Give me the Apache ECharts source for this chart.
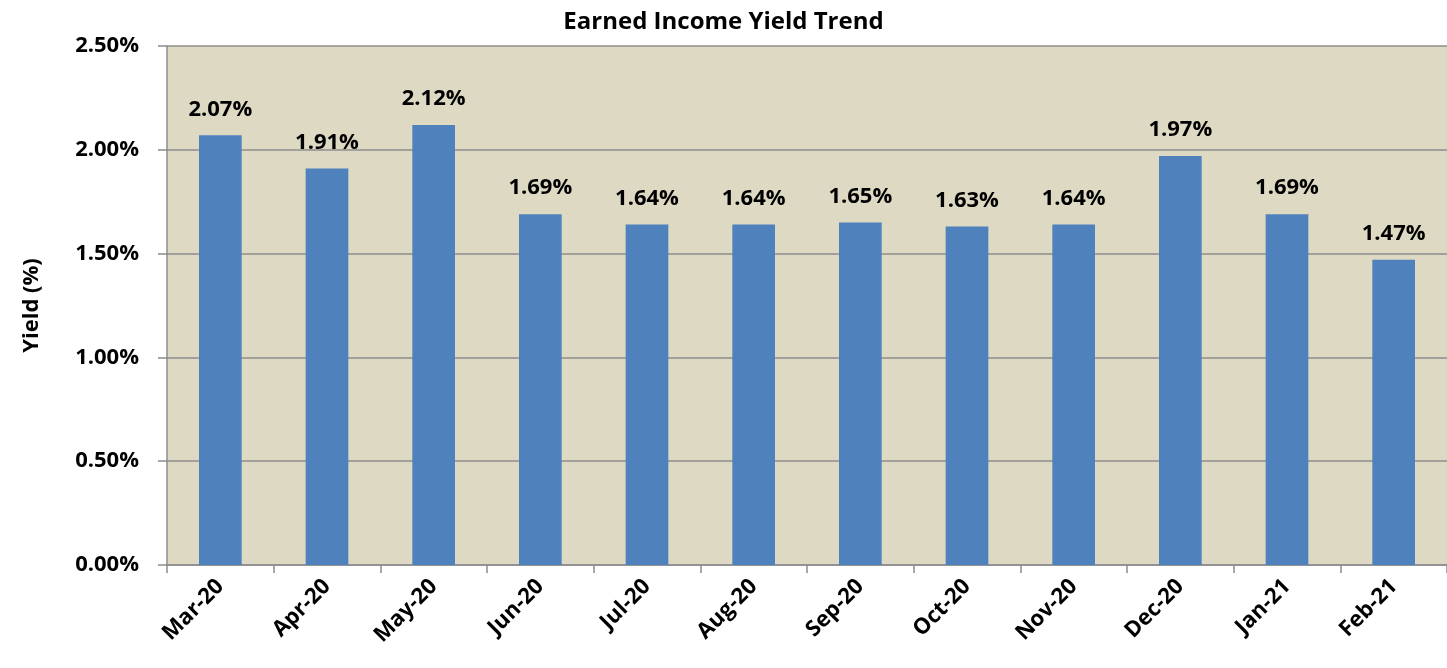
<!DOCTYPE html>
<html>
<head>
<meta charset="utf-8">
<script src="https://cdn.jsdelivr.net/npm/echarts@6/dist/echarts.min.js"></script>
<style>
  html, body { margin: 0; padding: 0; background: #fff; }
  #chart { width: 1447px; height: 668px; }
</style>
</head>
<body>
<div id="chart"></div>
<script>
  // chart data
  var months = ['Mar-20', 'Apr-20', 'May-20', 'Jun-20', 'Jul-20', 'Aug-20',
                'Sep-20', 'Oct-20', 'Nov-20', 'Dec-20', 'Jan-21', 'Feb-21'];
  var yieldPct = [2.07, 1.91, 2.12, 1.69, 1.64, 1.64, 1.65, 1.63, 1.64, 1.97, 1.69, 1.47];

  var font = '"Open Sans", "DejaVu Sans", sans-serif';
  var chart = echarts.init(document.getElementById('chart'));
  chart.setOption({
    animation: false,
    textStyle: { fontFamily: font },
    title: {
      text: 'Earned Income Yield Trend',
      left: 'center',
      top: 5,
      textStyle: { fontSize: 24, fontWeight: 'bold', color: '#000', fontFamily: font }
    },
    grid: {
      left: 167, right: -9, top: 46, bottom: 103,
      show: true, backgroundColor: '#ddd9c3', borderWidth: 0
    },
    xAxis: {
      type: 'category',
      data: months,
      axisLine: { lineStyle: { color: '#8c8c8c', width: 1.5 } },
      axisTick: { show: true, length: 8, lineStyle: { color: '#8c8c8c', width: 1.5 } },
      axisLabel: {
        rotate: 45, margin: 18, color: '#000', fontSize: 22, fontWeight: 'bold', fontFamily: font
      }
    },
    yAxis: {
      type: 'value',
      min: 0, max: 2.5, interval: 0.5,
      name: 'Yield (%)',
      nameLocation: 'middle',
      nameGap: 124,
      nameTextStyle: { fontSize: 22, fontWeight: 'bold', color: '#000', fontFamily: font },
      axisLine: { show: true, lineStyle: { color: '#8c8c8c', width: 1.5 } },
      axisTick: { show: true, length: 9, lineStyle: { color: '#8c8c8c', width: 1.5 } },
      axisLabel: {
        margin: 28, color: '#000', fontSize: 22, fontWeight: 'bold', fontFamily: font,
        formatter: function (v) { return v.toFixed(2) + '%'; }
      },
      splitLine: { lineStyle: { color: '#8c8c8c', width: 1.5 } }
    },
    series: [{
      type: 'bar',
      data: yieldPct,
      barWidth: '40%',
      itemStyle: { color: '#4f81bd' },
      label: {
        show: true, position: 'top', distance: 15,
        color: '#000', fontSize: 22, fontWeight: 'bold', fontFamily: font,
        formatter: function (p) { return p.value.toFixed(2) + '%'; }
      }
    }]
  });
</script>
</body>
</html>
